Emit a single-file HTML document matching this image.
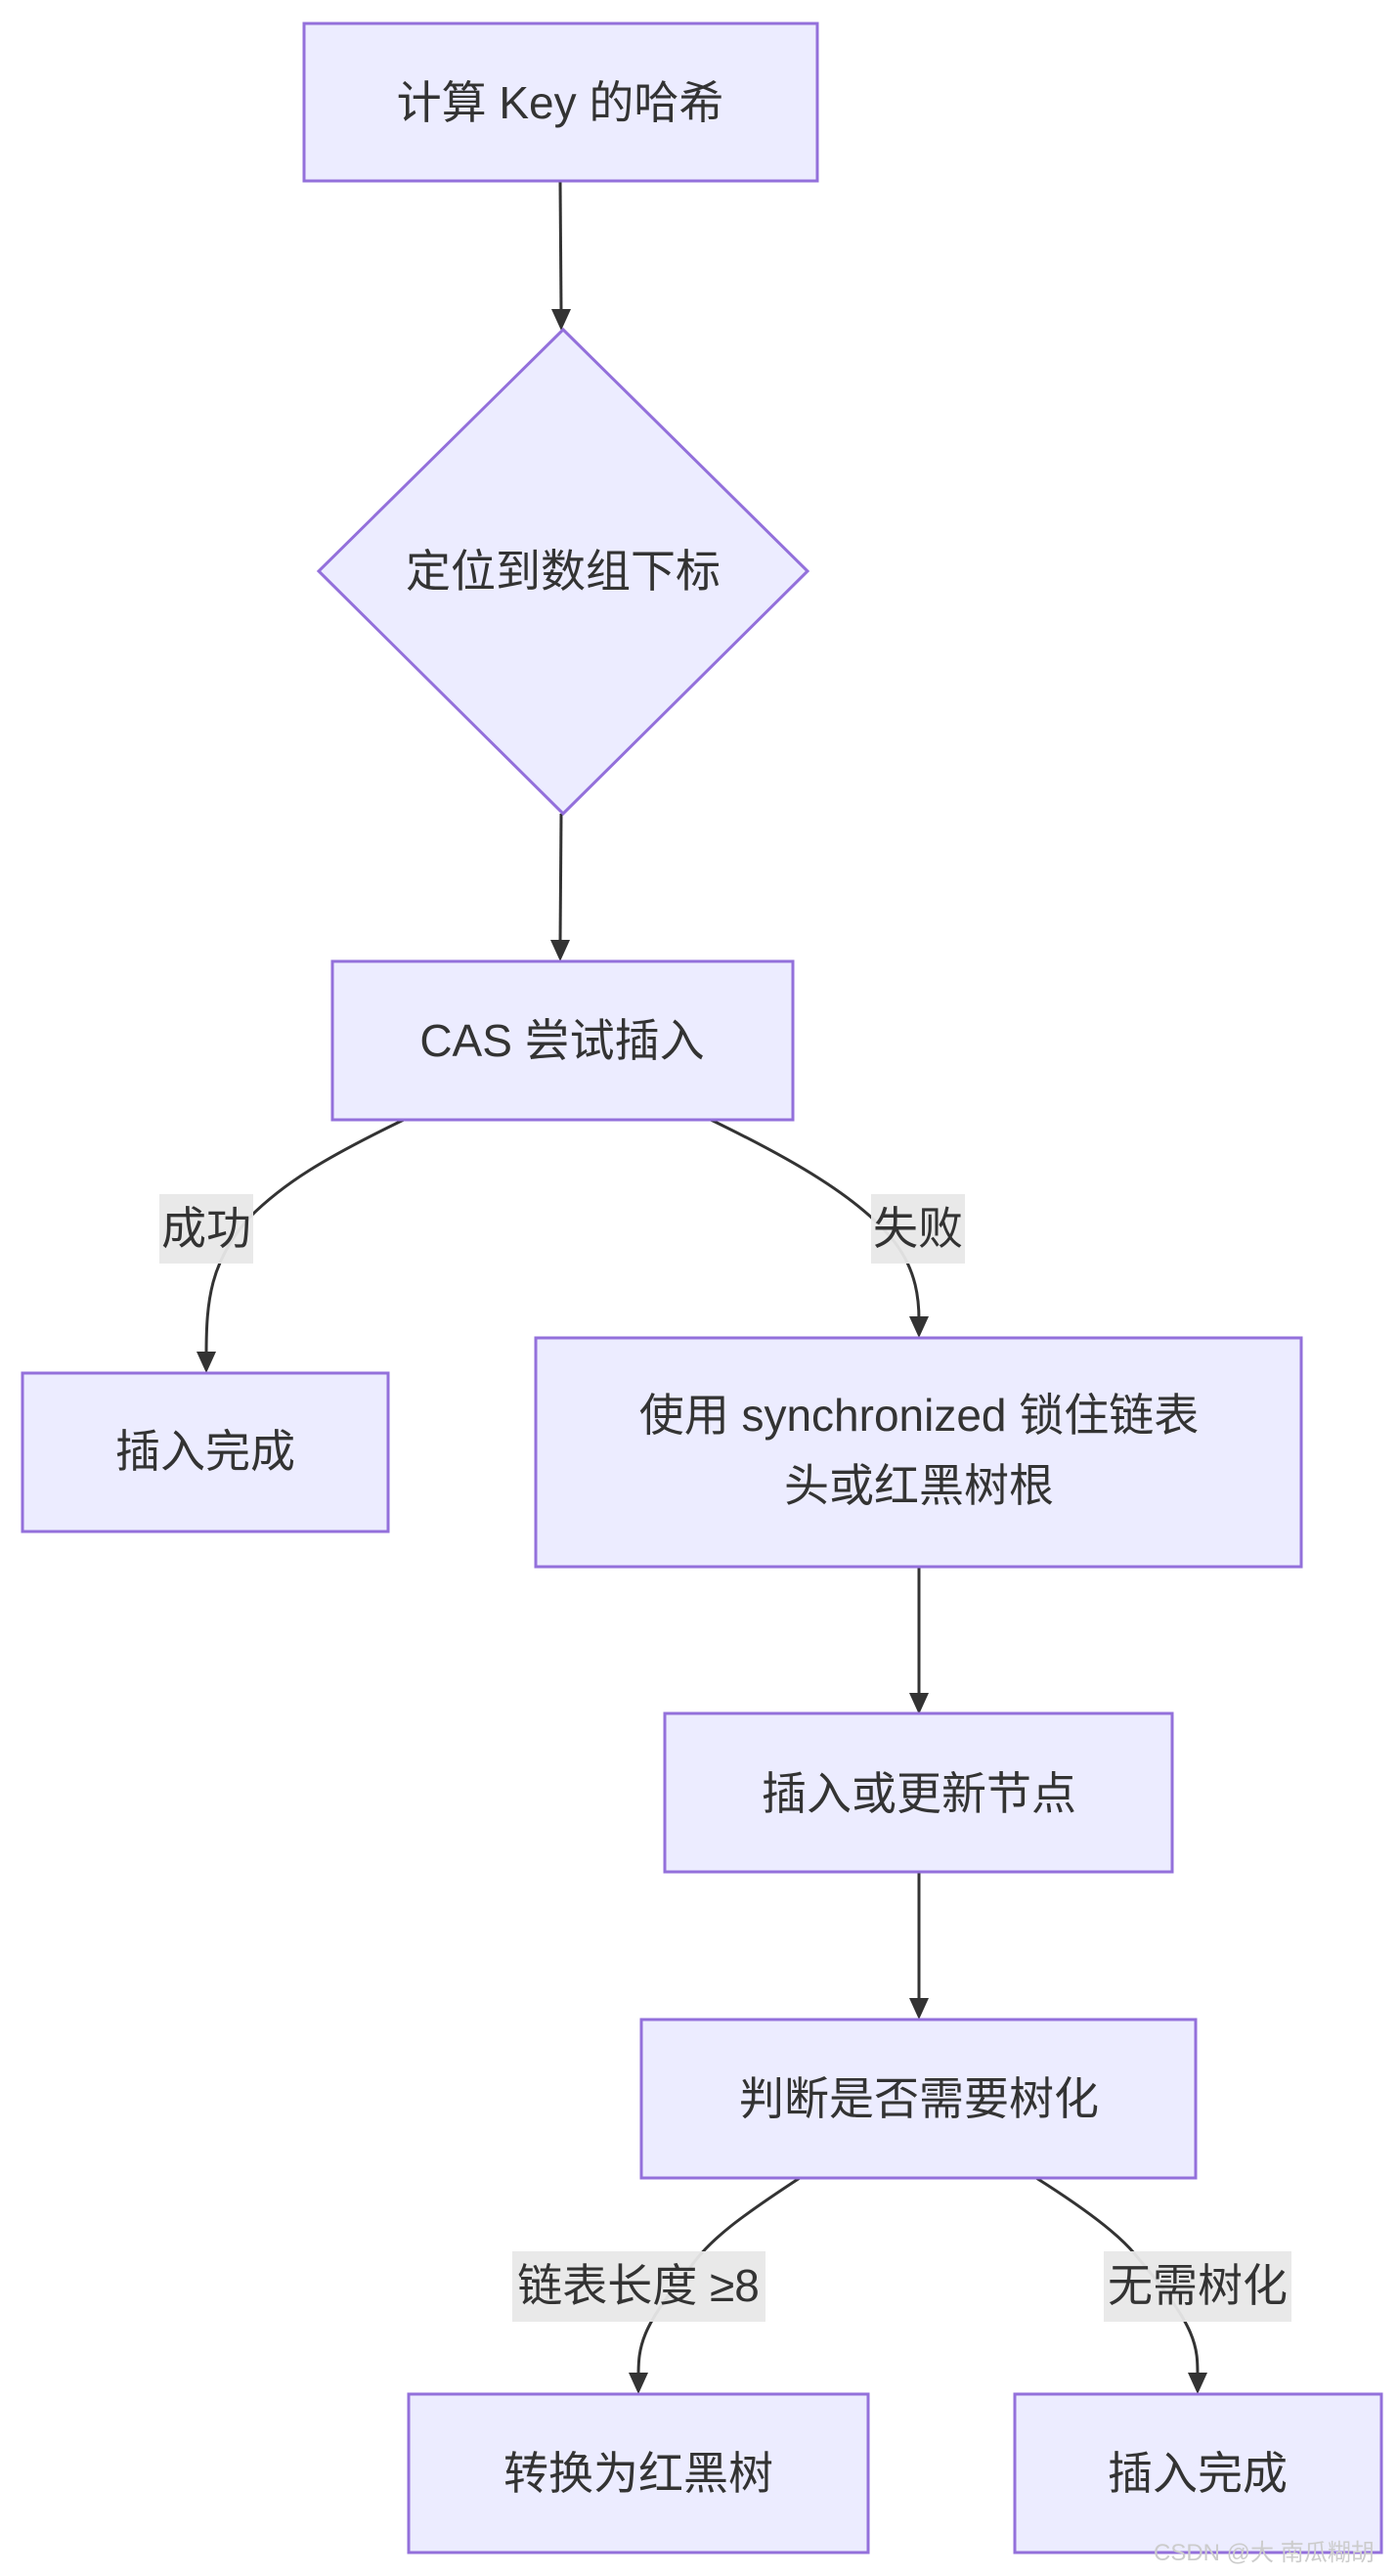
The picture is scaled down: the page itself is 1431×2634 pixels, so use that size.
<!DOCTYPE html>
<html><head><meta charset="utf-8"><style>
html,body{margin:0;padding:0;background:#fff;}
svg{display:block;}
text{font-family:"Liberation Sans","Noto Sans CJK SC",sans-serif;fill:#333;font-size:46px;}
</style></head><body>
<svg width="1431" height="2634" viewBox="0 0 1431 2634" xmlns="http://www.w3.org/2000/svg">
<defs>
<marker id="a" viewBox="0 0 10 10" refX="9" refY="5" markerWidth="7" markerHeight="7" orient="auto" markerUnits="userSpaceOnUse">
</marker>
</defs>
<g fill="none" stroke="#333" stroke-width="3">
<path d="M573 185 L574 318"/>
<path d="M574 832 L573 965"/>
<path d="M417 1143 C330 1185 290 1210 255 1245 C215 1290 211 1330 211 1385"/>
<path d="M723 1143 C810 1185 880 1225 915 1270 C938 1300 940 1330 940 1350"/>
<path d="M940 1602 L940 1735"/>
<path d="M940 1914 L940 2048"/>
<path d="M818 2227 C760 2265 725 2290 705 2320 C655 2380 653 2400 653 2430"/>
<path d="M1060 2227 C1120 2265 1150 2290 1165 2310 C1225 2380 1225 2400 1225 2430"/>
</g>
<g fill="#333">
<polygon points="564,316 584,316 574,338"/>
<polygon points="563,961 583,961 573,983"/>
<polygon points="201,1382 221,1382 211,1404"/>
<polygon points="930,1346 950,1346 940,1368"/>
<polygon points="930,1731 950,1731 940,1753"/>
<polygon points="930,2043 950,2043 940,2065"/>
<polygon points="643,2426 663,2426 653,2448"/>
<polygon points="1215,2426 1235,2426 1225,2448"/>
</g>
<g fill="#ECECFF" stroke="#9370DB" stroke-width="3">
<rect x="311" y="24" width="525" height="161"/>
<polygon points="576,337 826,584 576,832 326,584"/>
<rect x="340" y="983" width="471" height="162"/>
<rect x="23" y="1404" width="374" height="162"/>
<rect x="548" y="1368" width="783" height="234"/>
<rect x="680" y="1752" width="519" height="162"/>
<rect x="656" y="2065" width="567" height="162"/>
<rect x="418" y="2448" width="470" height="162"/>
<rect x="1038" y="2448" width="375" height="162"/>
</g>
<g fill="#e8e8e8" opacity="0.95">
<rect x="163" y="1221" width="96" height="71"/>
<rect x="891" y="1221" width="96" height="71"/>
<rect x="524" y="2302" width="259" height="72"/>
<rect x="1129" y="2302" width="192" height="72"/>
</g>
<g text-anchor="middle">
<text x="573" y="121">计算 Key 的哈希</text>
<text x="576" y="600">定位到数组下标</text>
<text x="575" y="1080">CAS 尝试插入</text>
<text x="210" y="1500">插入完成</text>
<text x="940" y="1463">使用 synchronized 锁住链表</text>
<text x="940" y="1535">头或红黑树根</text>
<text x="940" y="1850">插入或更新节点</text>
<text x="940" y="2162">判断是否需要树化</text>
<text x="653" y="2545">转换为红黑树</text>
<text x="1225" y="2545">插入完成</text>
<text x="211" y="1272">成功</text>
<text x="939" y="1272">失败</text>
<text x="653" y="2353">链表长度 ≥8</text>
<text x="1225" y="2353">无需树化</text>
</g>
<text x="1180" y="2618" style="font-size:24px;fill:#ccc">CSDN @大 南瓜糊胡</text>
</svg>
</body></html>
